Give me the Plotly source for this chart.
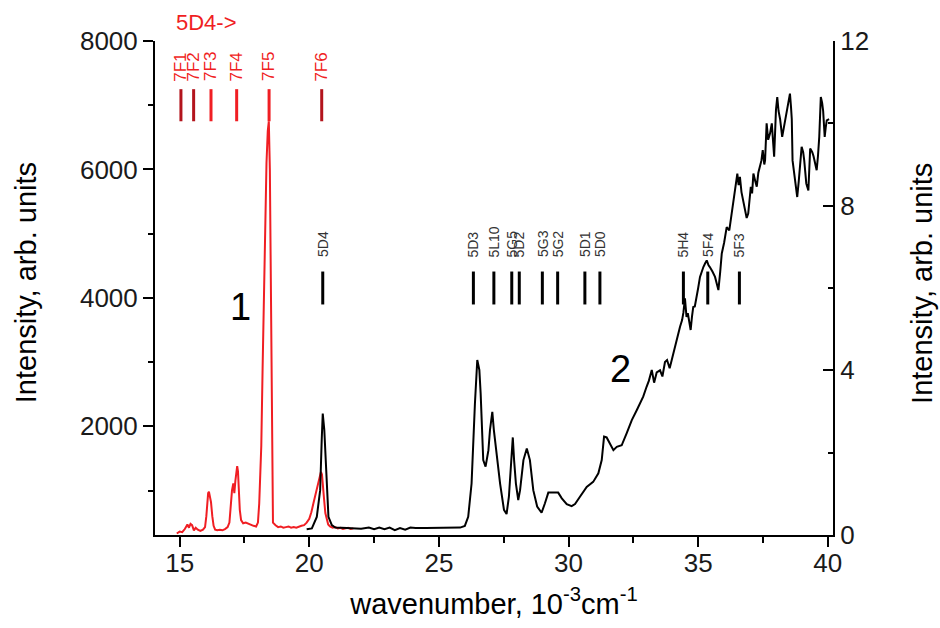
import plotly.graph_objects as go

# ---------------- data ----------------
red_x = [14.89, 15.00, 15.10, 15.20, 15.30, 15.36, 15.42, 15.48, 15.55, 15.62, 15.70, 15.80, 15.90,
         15.98, 16.03, 16.07, 16.10, 16.13, 16.17, 16.21, 16.26, 16.31, 16.37, 16.45, 16.55, 16.65,
         16.75, 16.85, 16.92, 16.97, 17.02, 17.07, 17.11, 17.15, 17.19, 17.22, 17.25, 17.28, 17.32,
         17.37, 17.45, 17.55, 17.65, 17.75, 17.85, 17.95, 18.02, 18.07, 18.10, 18.15, 18.20, 18.25,
         18.30, 18.35, 18.40, 18.44, 18.48, 18.51, 18.54, 18.57, 18.60, 18.70, 18.80, 18.90, 19.00,
         19.10, 19.20, 19.30, 19.40, 19.50, 19.60, 19.70, 19.80, 19.90, 20.00, 20.08, 20.16, 20.23,
         20.29, 20.35, 20.40, 20.45, 20.49, 20.53, 20.57, 20.62, 20.67, 20.73, 20.80, 20.90, 21.00,
         21.10, 21.20, 21.30, 21.40, 21.50, 21.60, 21.70]
red_y = [330, 360, 350, 400, 470, 420, 480, 460, 380, 420, 390, 370, 390,
         430, 600, 880, 960, 980, 900, 820, 600, 450, 390, 380, 390, 380,
         400, 430, 500, 800, 1000, 1110, 960, 1150, 1270, 1380, 1300, 1050, 700,
         540, 490, 500, 480, 470, 450, 440, 500, 800, 1060, 1700, 2900, 4200,
         5300, 6100, 6600, 6750, 6000, 4400, 2500, 900, 500, 460, 430, 440, 420,
         430, 440, 420, 430, 420, 440, 450, 460, 500, 560, 660, 800, 920,
         1010, 1120, 1210, 1290, 1250, 1100, 870, 650, 540, 470, 440, 420, 430,
         410, 420, 400, 410, 420, 400, 410]

black_x = [19.90, 20.10, 20.29, 20.42, 20.48, 20.52, 20.58, 20.65, 20.74, 20.87, 21.00, 21.45, 22.00,
           22.30, 22.50, 22.70, 22.90, 23.10, 23.30, 23.50, 23.70, 23.90, 24.10, 24.50, 25.00, 25.50,
           25.82, 26.00, 26.13, 26.26, 26.33, 26.39, 26.48, 26.56, 26.61, 26.65, 26.71, 26.80, 26.91,
           26.97, 27.06, 27.12, 27.23, 27.36, 27.51, 27.61, 27.70, 27.78, 27.85, 27.90, 27.97, 28.06,
           28.13, 28.26, 28.39, 28.51, 28.64, 28.79, 28.96, 29.09, 29.22, 29.41, 29.60, 29.74, 29.93,
           30.12, 30.25, 30.44, 30.70, 30.95, 31.15, 31.28, 31.37, 31.47, 31.60, 31.73, 31.86, 32.05,
           32.24, 32.44, 32.63, 32.76, 32.88, 33.01, 33.10, 33.21, 33.30, 33.40, 33.53, 33.62, 33.72,
           33.80, 33.90, 33.98, 34.10, 34.17, 34.23, 34.30, 34.38, 34.43, 34.49, 34.55, 34.60, 34.66,
           34.71, 34.76, 34.81, 34.87, 34.94, 35.00, 35.07, 35.13, 35.20, 35.27, 35.33, 35.40, 35.45,
           35.55, 35.65, 35.72, 35.78, 35.85, 35.91, 36.00, 36.10, 36.20, 36.29, 36.36, 36.42, 36.47,
           36.51, 36.56, 36.61, 36.67, 36.74, 36.81, 36.87, 36.93, 37.03, 37.08, 37.13, 37.20, 37.26,
           37.32, 37.38, 37.44, 37.49, 37.55, 37.58, 37.64, 37.70, 37.77, 37.84, 37.93, 38.00, 38.05,
           38.10, 38.16, 38.24, 38.34, 38.40, 38.47, 38.54, 38.58, 38.61, 38.64, 38.73, 38.78, 38.82,
           38.88, 38.93, 38.99, 39.05, 39.09, 39.17, 39.25, 39.32, 39.40, 39.45, 39.52, 39.57, 39.62,
           39.67, 39.73, 39.78, 39.82, 39.88, 39.92, 39.96, 40.05]
black_y = [0.14, 0.16, 0.44, 1.09, 2.31, 2.95, 2.55, 1.58, 0.44, 0.24, 0.18, 0.17, 0.15,
           0.18, 0.14, 0.18, 0.14, 0.18, 0.12, 0.17, 0.13, 0.18, 0.17, 0.17, 0.17, 0.18,
           0.18, 0.22, 0.44, 1.25, 2.47, 3.20, 4.25, 4.01, 3.44, 2.55, 1.82, 1.66, 2.06,
           2.55, 2.99, 2.55, 1.90, 1.25, 0.61, 0.51, 0.93, 1.82, 2.37, 1.82, 1.25, 0.85,
           1.09, 1.82, 2.10, 1.82, 1.09, 0.69, 0.54, 0.77, 1.03, 1.03, 1.03, 0.89, 0.75,
           0.70, 0.75, 0.93, 1.17, 1.29, 1.50, 1.82, 2.39, 2.37, 2.23, 2.06, 2.14, 2.18,
           2.47, 2.79, 3.03, 3.20, 3.36, 3.60, 3.75, 4.01, 3.70, 3.95, 4.00, 3.85, 4.20,
           4.25, 4.05, 4.25, 4.57, 4.73, 4.90, 5.06, 5.22, 5.40, 5.75, 5.30, 5.39, 5.10,
           4.98, 5.30, 5.54, 5.55, 5.75, 6.00, 6.27, 6.40, 6.51, 6.60, 6.67, 6.55, 6.51,
           6.40, 6.27, 6.10, 5.95, 6.40, 6.84, 7.10, 7.48, 7.40, 7.81, 8.10, 8.37, 8.60,
           8.78, 8.50, 8.70, 8.33, 8.10, 7.93, 7.70, 7.81, 8.46, 8.30, 8.78, 8.60, 8.46,
           8.80, 8.94, 9.10, 9.35, 9.00, 9.10, 10.00, 9.60, 9.75, 10.00, 9.19, 10.32, 10.64,
           10.30, 10.10, 9.67, 10.00, 10.20, 10.40, 10.72, 10.40, 10.10, 9.10, 8.70, 8.40, 8.21,
           8.60, 8.94, 9.43, 9.30, 9.10, 8.54, 8.37, 9.39, 9.30, 9.20, 9.00, 8.86, 9.20,
           9.67, 10.64, 10.50, 10.30, 9.67, 9.90, 10.07, 10.10]

# transition markers of spectrum 1 (5D4 -> 7FJ)
red_labels = ["7F1", "7F2", "7F3", "7F4", "7F5", "7F6"]
red_pos = [15.05, 15.54, 16.21, 17.20, 18.45, 20.48]
red_dark = [True, True, False, False, False, True]

# transition markers of spectrum 2
black_labels = ["5D4", "5D3", "5L10", "5G5", "5D2", "5G3", "5G2", "5D1", "5D0", "5H4", "5F4", "5F3"]
black_pos = [20.52, 26.33, 27.12, 27.81, 28.10, 28.99, 29.58, 30.63, 31.21, 34.43, 35.37, 36.59]

x_ticks = [15, 20, 25, 30, 35, 40]
y_ticks = [2000, 4000, 6000, 8000]
y2_ticks = [0, 4, 8, 12]

# marker extents (data units)
RED_LO, RED_HI = 6750, 7250
BLK_LO, BLK_HI = 5.6, 6.4

FONT = "Liberation Sans, Arial, sans-serif"
RED = "#f01e23"
DARKRED = "#b3141c"

fig = go.Figure()

fig.add_trace(go.Scatter(x=black_x, y=black_y, yaxis="y2", mode="lines",
                         line=dict(color="black", width=2), hoverinfo="skip"))
fig.add_trace(go.Scatter(x=red_x, y=red_y, mode="lines",
                         line=dict(color=RED, width=2), hoverinfo="skip"))

# black markers
bx, by = [], []
for p in black_pos:
    bx += [p, p, None]
    by += [BLK_LO, BLK_HI, None]
fig.add_trace(go.Scatter(x=bx, y=by, yaxis="y2", mode="lines",
                         line=dict(color="black", width=3), hoverinfo="skip"))

# red markers
for p, dark in zip(red_pos, red_dark):
    fig.add_trace(go.Scatter(x=[p, p], y=[RED_LO, RED_HI], mode="lines",
                             line=dict(color=DARKRED if dark else RED, width=3),
                             hoverinfo="skip"))

ann = []
for lab, p in zip(red_labels, red_pos):
    ann.append(dict(x=p, y=7340, xref="x", yref="y", text=lab, showarrow=False,
                    textangle=-90, xanchor="center", yanchor="bottom",
                    font=dict(family=FONT, size=17, color=RED)))
for lab, p in zip(black_labels, black_pos):
    ann.append(dict(x=p, y=6.7, xref="x", yref="y2", text=lab, showarrow=False,
                    textangle=-90, xanchor="center", yanchor="bottom",
                    font=dict(family=FONT, size=14, color="#333333")))

ann.append(dict(x=14.78, y=1.038, xref="x", yref="paper", text="5D4->", showarrow=False,
                xanchor="left", yanchor="middle", font=dict(family=FONT, size=22, color=RED)))
ann.append(dict(x=17.33, y=3855, xref="x", yref="y", text="1", showarrow=False,
                xanchor="center", yanchor="middle",
                font=dict(family=FONT, size=38, color="black")))
ann.append(dict(x=32.02, y=4.03, xref="x", yref="y2", text="2", showarrow=False,
                xanchor="center", yanchor="middle",
                font=dict(family=FONT, size=38, color="black")))
ann.append(dict(x=-0.19, y=0.51, xref="paper", yref="paper", text="Intensity, arb. units",
                showarrow=False, textangle=-90, xanchor="center", yanchor="middle",
                font=dict(family=FONT, size=29, color="black")))
ann.append(dict(x=1.131, y=0.51, xref="paper", yref="paper", text="Intensity, arb. units",
                showarrow=False, textangle=-90, xanchor="center", yanchor="middle",
                font=dict(family=FONT, size=29, color="black")))

fig.update_layout(
    width=940, height=628,
    margin=dict(l=155, r=107, t=41, b=93),
    paper_bgcolor="white", plot_bgcolor="white",
    showlegend=False,
    font=dict(family=FONT, size=26, color="#1a1a1a"),
    annotations=ann,
    xaxis=dict(range=[14.05, 40.2], tickvals=x_ticks, ticks="outside", ticklen=10, tickwidth=2,
               tickcolor="black", showline=True, linecolor="black", linewidth=2,
               showgrid=False, zeroline=False, ticklabelstandoff=-6,
               minor=dict(dtick=2.5, tick0=0, ticks="outside", ticklen=6, tickwidth=2, tickcolor="black"),
               title=dict(text="wavenumber, 10<sup>-3</sup>cm<sup>-1</sup>", standoff=16,
                          font=dict(family=FONT, size=29, color="black")),
               tickfont=dict(size=26)),
    yaxis=dict(range=[307, 8000], tickvals=y_ticks, ticks="outside", ticklen=10, tickwidth=2,
               tickcolor="black", showline=True, linecolor="black", linewidth=2,
               showgrid=False, zeroline=False,
               minor=dict(dtick=1000, tick0=0, ticks="outside", ticklen=5, tickwidth=2, tickcolor="black"),
               tickfont=dict(size=26)),
    yaxis2=dict(range=[0, 12], tickvals=y2_ticks, overlaying="y", side="right",
                ticks="inside", ticklen=10, tickwidth=2, tickcolor="black",
                showline=True, linecolor="black", linewidth=2, showgrid=False, zeroline=False,
                minor=dict(dtick=2, tick0=0, ticks="inside", ticklen=5, tickwidth=2, tickcolor="black"),
                tickfont=dict(size=26)),
)

fig.write_html("out.html")
